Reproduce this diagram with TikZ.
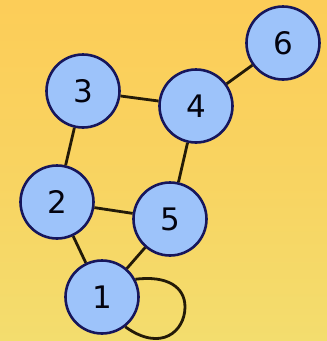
\documentclass[tikz,border=0pt]{standalone}
\usepackage{fontspec}
\setsansfont{DejaVu Sans}
\definecolor{nodefill}{HTML}{9DC3FA}
\definecolor{nodeline}{HTML}{16165C}
\definecolor{edgeline}{HTML}{231A08}
\definecolor{bgtop}{HTML}{FCCD58}
\definecolor{bgbottom}{HTML}{F3DD6E}

\begin{document}
\begin{tikzpicture}[x=1pt,y=-1pt,
  vertex/.style={circle,draw=nodeline,fill=nodefill,line width=2.6pt,minimum size=73pt,inner sep=0pt,font=\sffamily\fontsize{31}{31}\selectfont,text=black!85!nodeline},
  link/.style={draw=edgeline,line width=2.8pt}]

% background
\shade[top color=bgtop,bottom color=bgbottom,middle color=bgtop!60!bgbottom] (0,0) rectangle (327,341);
\useasboundingbox (0,0) rectangle (327,341);

\node [vertex] (v1) at (102,297) {1};
\node [vertex] (v2) at (57,202) {2};
\node [vertex] (v3) at (83,91) {3};
\node [vertex] (v4) at (196,106) {4};
\node [vertex] (v5) at (170,219) {5};
\node [vertex] (v6) at (283,43) {6};

\path [link] (v1) -- (v2)
             (v1) -- (v5)
             (v2) -- (v3)
             (v2) -- (v5)
             (v3) -- (v4)
             (v4) -- (v5)
             (v4) -- (v6);
% self loop on 1
\coordinate (loopr) at (185,307);
\path [link] (v1.28) .. controls +(32,-4) and +(0,-20) .. (loopr)
                     .. controls +(0,24) and +(36,26) .. (v1.-52);
\end{tikzpicture}
\end{document}
